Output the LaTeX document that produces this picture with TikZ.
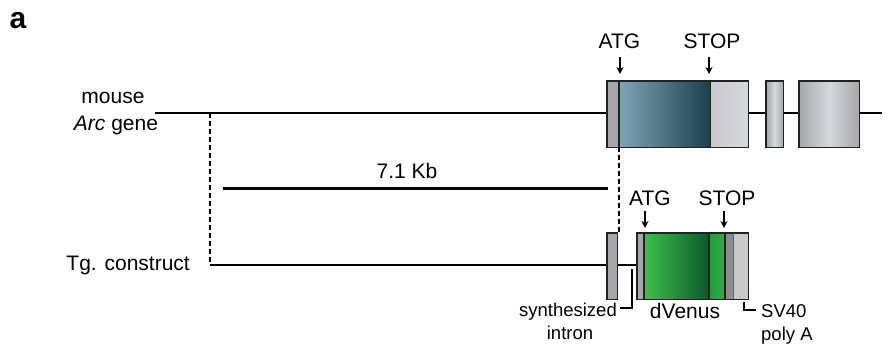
\documentclass[tikz,border=0pt]{standalone}
\usepackage{fontspec}
\setmainfont{Liberation Sans}
\usetikzlibrary{arrows.meta}
\definecolor{exgray}{HTML}{A6A6AB}
\definecolor{exlight}{HTML}{C9C9CD}
\definecolor{exmid}{HTML}{D6D8DA}
\definecolor{bluelt}{HTML}{7FA5B7}
\definecolor{bluedk}{HTML}{1C3F4C}
\definecolor{greenlt}{HTML}{3FBF4C}
\definecolor{greendk}{HTML}{0A5A2A}
\definecolor{greenmd}{HTML}{1E9E3C}
\definecolor{outline}{HTML}{222222}
\begin{document}
\begin{tikzpicture}[x=1pt,y=-1pt,
  gline/.style={line width=1.4pt,black},
  boxline/.style={draw=outline,line width=1.5pt},
  dashline/.style={line width=1.2pt,dash pattern=on 5pt off 3pt},
  arr/.style={line width=1.4pt,-{Stealth[length=7pt,width=7pt]}},
  big/.style={font=\fontsize{21}{24}\selectfont,inner sep=0pt},
  small/.style={font=\fontsize{18.5}{22}\selectfont,inner sep=0pt},
  brk/.style={line width=1.2pt}]
\useasboundingbox (0,0) rectangle (888,354);
\fill[white] (0,0) rectangle (888,354);
% label a
\node[font=\fontsize{30}{32}\selectfont\bfseries,inner sep=0pt,anchor=base] (lbla) at (18,28) {a};
% key coordinates
\coordinate (gstart) at (155,113);
\coordinate (gend) at (882,113);
\coordinate (dtop) at (210,113);
\coordinate (dcorner) at (210,265);
% upper gene line
\draw[gline] (gstart) -- (gend);
% exon 1
\node[fill=exgray,minimum width=141pt,minimum height=66pt,inner sep=0pt,anchor=north west] (ex1) at (607,81) {};
\shade[left color=bluelt,right color=bluedk] (619,81) rectangle (710,147);
\shade[left color=exlight,right color=exmid] (710,81) rectangle (748,147);
\draw[boxline] (ex1.north west) rectangle (ex1.south east);
\draw[line width=1.4pt,outline] (619,81) -- (619,147);
\draw[line width=1pt,outline] (710,81) -- (710,147);
\coordinate (ex1atg) at (619,147);
% exon 2
\node[minimum width=17pt,minimum height=66pt,inner sep=0pt,anchor=north west,
  left color=exgray,right color=exgray,middle color=exmid] (ex2) at (766,81) {};
\draw[boxline] (ex2.north west) rectangle (ex2.south east);
% exon 3
\node[minimum width=60pt,minimum height=66pt,inner sep=0pt,anchor=north west,
  left color=exgray,right color=exgray,middle color=exmid] (ex3) at (799,81) {};
\draw[boxline] (ex3.north west) rectangle (ex3.south east);
% arrows upper
\node[big,anchor=base] (atg1) at (619.5,48) {ATG};
\node[big,anchor=base] (stop1) at (712,48) {STOP};
\coordinate (a1s) at (620,57);
\coordinate (a1e) at (620,74);
\coordinate (s1s) at (709,57);
\coordinate (s1e) at (709,74);
\draw[arr] (a1s) -- (a1e);
\draw[arr] (s1s) -- (s1e);
% labels left
\node[big,anchor=base] (mouse) at (113,103) {mouse};
\node[big,anchor=base] (arc) at (116,130) {\itshape Arc\upshape{} gene};
\node[big,anchor=base east] (tg) at (190,270) {Tg. construct};
% 7.1 Kb
\coordinate (kbs) at (223,188);
\coordinate (kbe) at (608,188);
\draw[line width=3pt] (kbs) -- (kbe);
\node[big,anchor=base] (kb) at (407,178) {7.1 Kb};
% lower construct
\draw[gline] (dcorner) -- (637,265);
\draw[dashline] (dtop) -- (dcorner);
\node[fill=exgray,minimum width=10pt,minimum height=66pt,inner sep=0pt,anchor=north west] (intr) at (607,233) {};
\draw[boxline] (intr.north west) rectangle (intr.south east);
\draw[dashline] (ex1atg) -- (619,233);
% dVenus box
\node[fill=exgray,minimum width=111pt,minimum height=66pt,inner sep=0pt,anchor=north west] (dv) at (637,233) {};
\shade[left color=greenlt,right color=greendk] (644,233) rectangle (709,299);
\shade[left color=greenmd,right color=greenlt!80!greendk] (709,233) rectangle (725,299);
\fill[exgray!85!black] (725,233) rectangle (733,299);
\fill[exlight] (733,233) rectangle (748,299);
\draw[boxline] (dv.north west) rectangle (dv.south east);
\draw[line width=1.2pt,outline] (644,233) -- (644,299);
\draw[line width=1.2pt,outline] (709,233) -- (709,299);
\draw[line width=1.2pt,outline] (725,233) -- (725,299);
\draw[line width=0.8pt,outline!70] (733,233) -- (733,299);
% arrows lower
\node[big,anchor=base] (atg2) at (650,205) {ATG};
\node[big,anchor=base] (stop2) at (727,205) {STOP};
\coordinate (a2s) at (645,211);
\coordinate (a2e) at (645,228);
\coordinate (s2s) at (724,211);
\coordinate (s2e) at (724,228);
\draw[arr] (a2s) -- (a2e);
\draw[arr] (s2s) -- (s2e);
% brackets and labels
\coordinate (b1t) at (632,269);
\coordinate (b1c) at (632,308);
\coordinate (b1e) at (620,308);
\draw[brk] (b1t) -- (b1c) -- (b1e);
\node[small,anchor=base east] (syn) at (617,316) {synthesized};
\node[small,anchor=base] (intron) at (570,339) {intron};
\node[big,anchor=base] (dvenus) at (685,318) {dVenus};
\coordinate (b2t) at (744,302);
\coordinate (b2c) at (744,310);
\coordinate (b2e) at (756,310);
\draw[brk] (b2t) -- (b2c) -- (b2e);
\node[small,anchor=base west] (sv) at (761,317) {SV40};
\node[small,anchor=base west] (poly) at (761,340) {poly A};
\end{tikzpicture}
\end{document}
